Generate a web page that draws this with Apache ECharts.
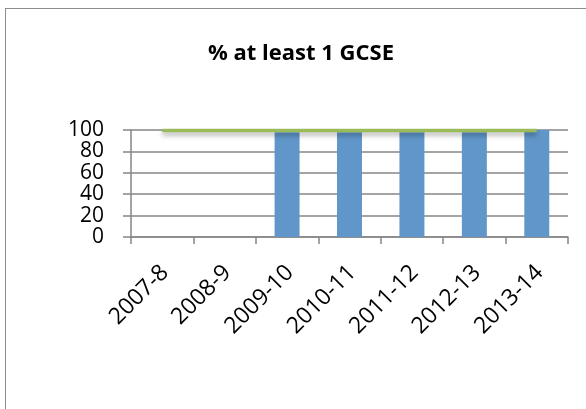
<!DOCTYPE html>
<html lang="en">
<head>
    <meta charset="UTF-8">
    <title>% at least 1 GCSE</title>
    <style>
        html, body { margin: 0; padding: 0; background: #fff; }
        .frame {
            position: absolute;
            left: 5px;
            top: 8px;
            width: 620px;
            height: 440px;
            border: 1px solid #8c8c8c;
        }
        #chart {
            position: absolute;
            left: 0;
            top: 0;
            width: 586px;
            height: 409px;
        }
    </style>
</head>
<body>
    <div class="frame"></div>
    <div id="chart"></div>

    <script src="https://cdn.jsdelivr.net/npm/echarts@6/dist/echarts.min.js"></script>
    <script>
        // data
        var years = ['2007-8', '2008-9', '2009-10', '2010-11', '2011-12', '2012-13', '2013-14'];
        var barValues = [null, null, 98, 98, 98, 98, 100];
        var lineValues = [99.5, 99.5, 99.5, 99.5, 99.5, 99.5, 99.5];
        var yTicks = [0, 20, 40, 60, 80, 100];

        var myChart = echarts.init(document.getElementById('chart'));

        var option = {
            animation: false,
            title: {
                text: '% at least 1 GCSE',
                left: 296,
                top: 38,
                textAlign: 'center',
                textStyle: {
                    fontFamily: 'Open Sans',
                    fontSize: 22,
                    fontWeight: 'bold',
                    color: '#000'
                }
            },
            grid: {
                left: 131,
                right: 18,
                top: 130,
                bottom: 172
            },
            xAxis: {
                type: 'category',
                data: years,
                boundaryGap: true,
                axisLine: { lineStyle: { color: '#868686', width: 1.5 } },
                axisTick: { show: true, length: 7, lineStyle: { color: '#868686', width: 1.5 } },
                axisLabel: {
                    rotate: 45,
                    margin: 35,
                    padding: [0, -4, 0, 0],
                    fontFamily: 'Open Sans',
                    fontSize: 23,
                    color: '#000'
                }
            },
            yAxis: {
                type: 'value',
                min: yTicks[0],
                max: yTicks[yTicks.length - 1],
                interval: 20,
                axisLine: { show: true, lineStyle: { color: '#868686', width: 1.5 } },
                axisTick: { show: true, length: 8, lineStyle: { color: '#868686', width: 1.5 } },
                splitLine: { lineStyle: { color: '#868686', width: 1.5 } },
                axisLabel: {
                    margin: 27,
                    fontFamily: 'Open Sans',
                    fontSize: 21,
                    lineHeight: 20,
                    color: '#000'
                }
            },
            series: [
                {
                    name: 'bar',
                    type: 'bar',
                    data: barValues,
                    barWidth: '40%',
                    itemStyle: { color: '#6096C9' },
                    z: 2
                },
                {
                    name: 'line',
                    type: 'line',
                    data: lineValues,
                    symbol: 'none',
                    lineStyle: {
                        color: '#9BBB59',
                        width: 3.5,
                        shadowColor: 'rgba(0,0,0,0.35)',
                        shadowBlur: 5,
                        shadowOffsetY: 3
                    },
                    z: 3
                }
            ]
        };
        myChart.setOption(option);
    </script>
</body>
</html>
